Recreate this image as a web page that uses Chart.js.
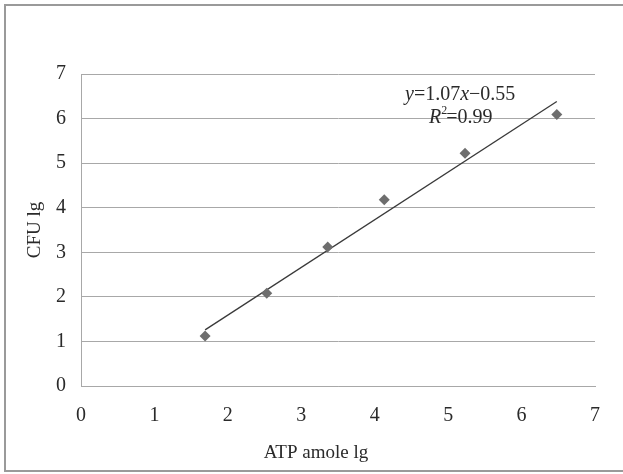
<!DOCTYPE html>
<html>
<head>
<meta charset="utf-8">
<script src="https://cdn.jsdelivr.net/npm/chart.js@4/dist/chart.umd.min.js"></script>
<style>
  html, body { margin: 0; padding: 0; background: #fff; }
  #wrap { width: 623px; height: 474px; position: relative; }
</style>
</head>
<body>
<div id="wrap"><canvas id="atpChart" width="623" height="474"></canvas></div>
<script>
// measured points (lg ATP amole, lg CFU)
const atpLg = [1.69, 2.53, 3.36, 4.13, 5.23, 6.48];
const cfuLg = [1.12, 2.08, 3.12, 4.18, 5.22, 6.09];

// fitted line y = 1.07x - 0.55 over the data range
const fitSlope = 1.07;
const fitIntercept = -0.55;
const fitX = [1.69, 6.48];

const xTicks = [0, 1, 2, 3, 4, 5, 6, 7];
const yTicks = [0, 1, 2, 3, 4, 5, 6, 7];

const serif = '"Liberation Serif", "DejaVu Serif", serif';
const textColor = '#2a2a2a';
const gridColor = '#a8a8a8';

const scatterData = atpLg.map((x, i) => ({ x: x, y: cfuLg[i] }));
const fitData = fitX.map(x => ({ x: x, y: fitSlope * x + fitIntercept }));

// frame, x-axis title and the equation text
const extras = {
  id: 'extras',
  beforeDraw(chart) {
    const c = chart.ctx;
    c.save();
    c.fillStyle = '#fff';
    c.fillRect(0, 0, chart.width, chart.height);
    c.strokeStyle = '#9a9a9a';
    c.lineWidth = 2;
    c.strokeRect(5, 5, 640, 466);
    c.restore();
  },
  afterDraw(chart) {
    const c = chart.ctx;
    c.save();
    c.fillStyle = textColor;
    c.textBaseline = 'alphabetic';

    c.font = '19px ' + serif;
    c.textAlign = 'center';
    c.fillText('ATP amole lg', 316, 458);

    c.textAlign = 'left';
    const parts = [
      ['italic', 'y'], ['normal', '=1.07'], ['italic', 'x'], ['normal', '\u22120.55']
    ];
    let px = 405;
    for (const [style, txt] of parts) {
      c.font = style + ' 20px ' + serif;
      c.fillText(txt, px, 100);
      px += c.measureText(txt).width;
    }
    px = 429;
    c.font = 'italic 20px ' + serif;
    c.fillText('R', px, 123);
    px += c.measureText('R').width;
    c.font = '12px ' + serif;
    c.fillText('2', px, 114);
    px += c.measureText('2').width - 1;
    c.font = '20px ' + serif;
    c.fillText('=0.99', px, 123);
    c.restore();
  }
};

new Chart(document.getElementById('atpChart'), {
  type: 'scatter',
  data: {
    datasets: [
      {
        label: 'CFU',
        data: scatterData,
        pointStyle: 'rectRot',
        pointRadius: 5.5,
        backgroundColor: '#6e6e6e',
        borderColor: '#6e6e6e',
        borderWidth: 0
      },
      {
        label: 'fit',
        type: 'line',
        data: fitData,
        borderColor: '#3a3a3a',
        borderWidth: 1.3,
        pointRadius: 0,
        fill: false
      }
    ]
  },
  options: {
    responsive: false,
    animation: false,
    layout: { padding: { top: 74, right: 28, bottom: 0, left: 0 } },
    plugins: { legend: { display: false }, tooltip: { enabled: false } },
    scales: {
      x: {
        type: 'linear',
        min: 0, max: 7,
        afterBuildTicks: s => { s.ticks = xTicks.map(v => ({ value: v })); },
        afterFit: s => { s.height = 88; },
        grid: { display: false, drawTicks: false },
        border: { display: true, color: gridColor, width: 1 },
        ticks: { padding: 18, color: textColor, font: { family: serif, size: 20 } }
      },
      y: {
        type: 'linear',
        min: 0, max: 7,
        afterBuildTicks: s => { s.ticks = yTicks.map(v => ({ value: v })); },
        afterFit: s => { s.width = 81; },
        grid: { color: gridColor, lineWidth: 1, drawTicks: false },
        border: { display: true, color: gridColor, width: 1 },
        ticks: { padding: 15, color: textColor, font: { family: serif, size: 20 } },
        title: {
          display: true,
          text: 'CFU lg',
          color: textColor,
          font: { family: serif, size: 19 },
          padding: { top: 24, bottom: 0 }
        }
      }
    }
  },
  plugins: [extras]
});
</script>
</body>
</html>
